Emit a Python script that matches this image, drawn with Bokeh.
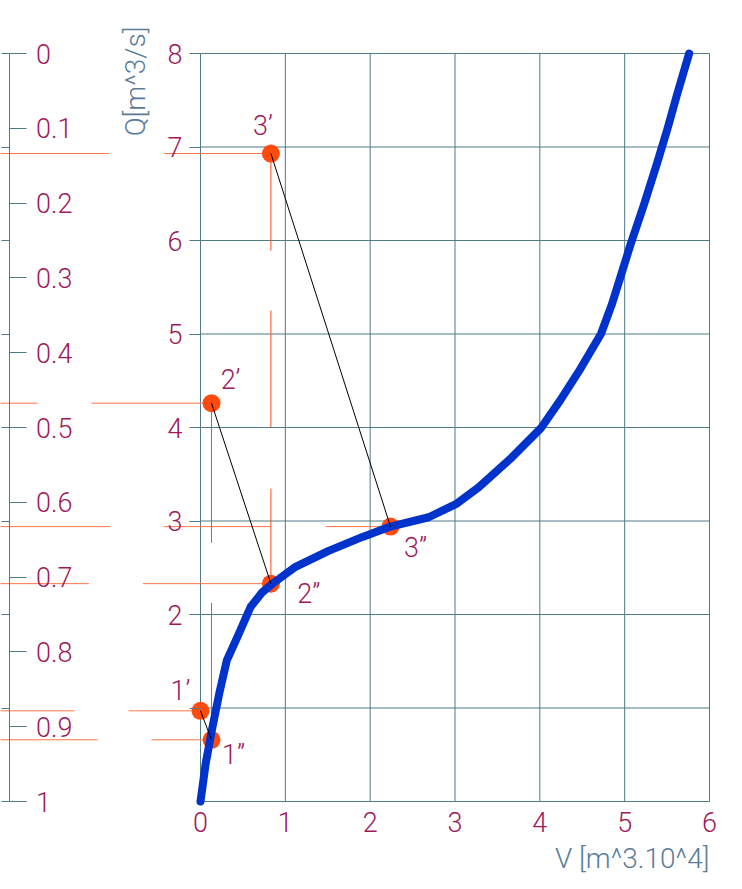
import math
from bokeh.plotting import figure
from bokeh.models import Range1d, LinearAxis, FixedTicker, Label
from bokeh.core.properties import value
from bokeh.embed import file_html
from bokeh.resources import INLINE

# ---------------- data ----------------
# storage curve Q(V)
curve_v = [0.0, 0.06, 0.14, 0.22, 0.31, 0.45, 0.59, 0.73, 0.85, 1.12, 1.51, 1.91, 2.24,
           2.69, 3.01, 3.28, 3.67, 4.01, 4.24, 4.48, 4.72, 4.85, 4.95, 5.07, 5.23, 5.38,
           5.50, 5.62, 5.76]
curve_q = [0.0, 0.40, 0.79, 1.15, 1.51, 1.79, 2.08, 2.24, 2.33, 2.51, 2.68, 2.83, 2.94,
           3.04, 3.18, 3.36, 3.68, 3.99, 4.29, 4.63, 5.00, 5.32, 5.61, 5.96, 6.39, 6.82,
           7.18, 7.57, 8.00]

# construction points
pt_names = ["1’", "1”", "2’", "2”", "3’", "3”"]
pt_v = [0.0, 0.13, 0.13, 0.83, 0.83, 2.24]
pt_q = [0.97, 0.66, 4.26, 2.33, 6.93, 2.94]

# links: primed point -> double-primed point
link_from = ["1’", "2’", "3’"]
link_to = ["1”", "2”", "3”"]
# vertical projections: lower point -> upper point
vproj_from = ["1”", "2”"]
vproj_to = ["2’", "3’"]

x_ticks = [0, 1, 2, 3, 4, 5, 6]
y_ticks = [1, 2, 3, 4, 5, 6, 7, 8]
y_labels = ["", "2", "3", "4", "5", "6", "7", "8"]
grid_x = [0, 1, 2, 3, 4, 5, 6]
grid_y = [0, 1, 2, 3, 4, 5, 6, 7, 8]
scale_ticks = [0, 0.1, 0.2, 0.3, 0.4, 0.5, 0.6, 0.7, 0.8, 0.9, 1]
scale_labels = ["0", "0.1", "0.2", "0.3", "0.4", "0.5", "0.6", "0.7", "0.8", "0.9", "1"]
scale_minor = [0, 0.125, 0.25, 0.375, 0.5, 0.625, 0.75, 0.875, 1]

x_title = "V [m^3.10^4]"
y_title = "Q[m^3/s]"

# ---------------- styles ----------------
W, H = 740, 885
PXX = 509 / 6.0      # px per V unit
PXY = 93.5           # px per Q unit
ORIGIN_PX = (200, 801)   # origin inside figure
GRID = "#4F7A86"
LABEL = "#9E1A5A"
TITLE = "#5B7C99"
ORANGE = "#FF4A10"
ORANGE_H = "#FF7448"
ORANGE_V = "#FF4A10"
BLUE = "#0033CC"
FONT = "Roboto Light"
FS = "27px"
FS_T = "28px"

h_dash = {"1’": "72 54 2000", "1”": "60 54 2000", "2’": "120 54 2000",
          "2”": "128 54 2000", "3’": "107 55 2000", "3”": "65 55 107 53 2000"}
v_dash = ["137 60 2000", "95 61 117 60 2000"]
lab_off = {"1’": (-20, -20), "1”": (22, 15), "2’": (19, -23),
           "2”": (38, 10), "3’": (-8, -28), "3”": (25, 21)}

x_start = -ORIGIN_PX[0] / PXX
x_end = x_start + W / PXX
y_end = ORIGIN_PX[1] / PXY
y_start = y_end - H / PXY
# scale 0..1 mapped from Q=8 (0) down to Q=0 (1)
s_end = (0 - 53) / 748.0
s_start = (H - 53) / 748.0

p = figure(width=W, height=H, x_range=Range1d(x_start, x_end), y_range=Range1d(y_start, y_end),
           x_axis_type=None, y_axis_type=None, toolbar_location=None, output_backend="svg",
           min_border=0, outline_line_color=None)
p.extra_y_ranges = {"s": Range1d(start=s_start, end=s_end)}

# grid
p.segment(x0=grid_x, y0=[grid_y[0]] * len(grid_x), x1=grid_x, y1=[grid_y[-1]] * len(grid_x),
          line_color=GRID, line_width=1)
p.segment(x0=[grid_x[0]] * len(grid_y), y0=grid_y, x1=[grid_x[-1]] * len(grid_y), y1=grid_y,
          line_color=GRID, line_width=1)

pos = {n: (v, q) for n, v, q in zip(pt_names, pt_v, pt_q)}

# horizontal projections to the left scale
for n in pt_names:
    v, q = pos[n]
    p.line([v, x_start - 1], [q, q], line_color=ORANGE_H, line_width=1, line_dash=h_dash[n])

# vertical projections
for a, b, d in zip(vproj_from, vproj_to, v_dash):
    p.line([pos[a][0], pos[b][0]], [pos[a][1], pos[b][1]], line_color=ORANGE_V,
           line_width=1, line_dash=d)

# points
p.scatter(pt_v, pt_q, size=18, fill_color=ORANGE, line_color=None)

# curve
p.line(curve_v, curve_q, line_color=BLUE, line_width=8, line_cap="round", line_join="round")

# links
for a, b in zip(link_from, link_to):
    p.line([pos[a][0], pos[b][0]], [pos[a][1], pos[b][1]], line_color="black", line_width=1)

# point labels
p.text(x=pt_v, y=pt_q, text=pt_names,
       x_offset=[lab_off[n][0] for n in pt_names], y_offset=[lab_off[n][1] for n in pt_names],
       text_font=value(FONT), text_font_size=FS, text_color=LABEL,
       text_align="center", text_baseline="middle")

def style_axis(ax):
    ax.axis_line_color = None
    ax.major_tick_line_color = GRID
    ax.minor_tick_line_color = None
    ax.major_label_text_font = FONT
    ax.major_label_text_font_size = FS
    ax.major_label_text_color = LABEL

yax = LinearAxis(fixed_location=0, ticker=FixedTicker(ticks=y_ticks),
                 major_label_overrides={t: l for t, l in zip(y_ticks, y_labels)})
style_axis(yax)
yax.major_tick_out = 11
yax.major_tick_in = 0
yax.major_label_standoff = 7
p.add_layout(yax, "left")

xax = LinearAxis(fixed_location=0, ticker=FixedTicker(ticks=x_ticks))
style_axis(xax)
xax.major_tick_out = 0
xax.major_tick_in = 0
xax.major_tick_line_color = None
xax.major_label_standoff = 10
p.add_layout(xax, "below")

scale_x = x_start + 8.5 / PXX
sax = LinearAxis(y_range_name="s", fixed_location=scale_x,
                 ticker=FixedTicker(ticks=scale_ticks), bounds=(0, 1),
                 major_label_overrides={t: l for t, l in zip(scale_ticks, scale_labels)})
style_axis(sax)
sax.axis_line_color = GRID
sax.major_tick_out = 17
sax.major_tick_in = 0
sax.major_label_standoff = 10
p.add_layout(sax, "right")

sax2 = LinearAxis(y_range_name="s", fixed_location=scale_x,
                  ticker=FixedTicker(ticks=scale_minor))
style_axis(sax2)
sax2.major_tick_out = 8
sax2.major_tick_in = 0
sax2.major_label_text_color = None
p.add_layout(sax2, "left")

# axis titles
p.add_layout(Label(x=-65 / PXX, y=(801 - 81) / PXY, text=y_title, angle=math.pi / 2,
                   text_align="center", text_baseline="middle", text_font=FONT,
                   text_font_size=FS_T, text_color=TITLE))
p.add_layout(Label(x=6.0, y=-57 / PXY, text=x_title, text_align="right",
                   text_baseline="middle", text_font=FONT, text_font_size=FS_T,
                   text_color=TITLE))

open("out.html", "w").write(file_html(p, INLINE))
